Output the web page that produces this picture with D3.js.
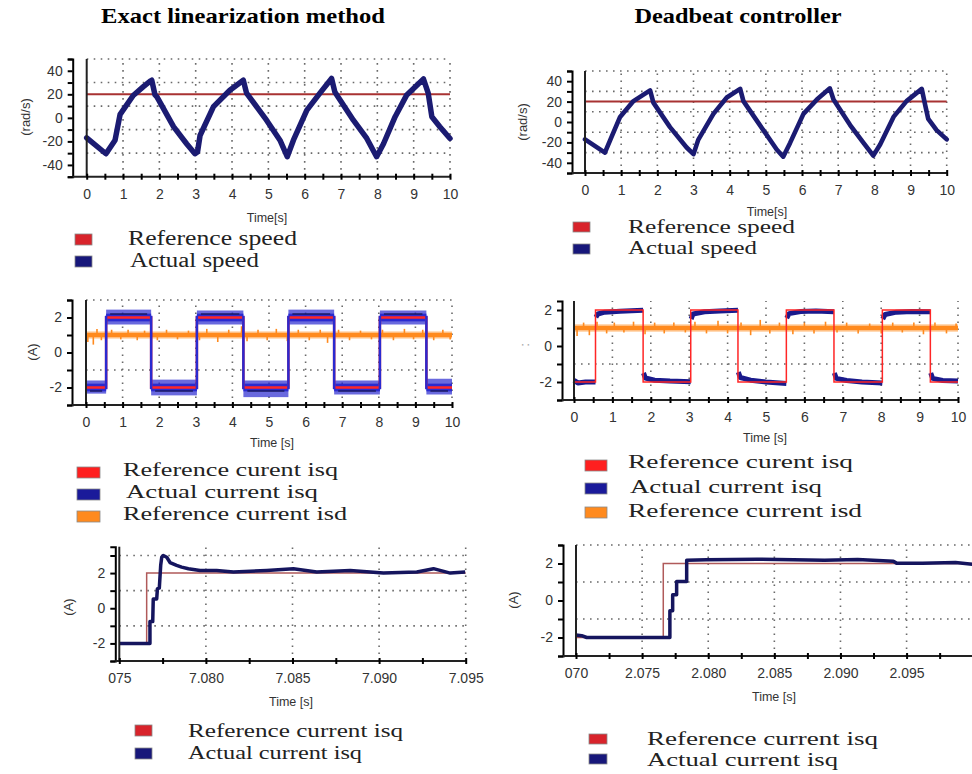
<!DOCTYPE html>
<html>
<head>
<meta charset="utf-8">
<script src="https://cdn.jsdelivr.net/npm/d3@7"></script>
<style>
  body { margin: 0; background: #fff; }
  svg { display: block; }
  .tick text { font-family: "Liberation Sans", Arial, sans-serif; fill: #333; }
</style>
</head>
<body>
<svg id="fig" width="972" height="774"></svg>
<script>
// ---------- data ----------
// top row: rotor speed (rad/s) against time (s)
const speedRef = 20;
const speedLeft = [[0,-17],[0.53,-30.5],[0.78,-19],[0.92,3],[1.28,19],[1.56,26.5],[1.74,31],[1.79,32],[1.88,19.5],[1.93,18],
  [2.39,-7.5],[2.75,-22],[2.98,-30.5],[3.05,-29],[3.12,-15],[3.49,9.5],[3.94,23.5],[4.31,32],[4.4,21],[4.95,-2],
  [5.32,-19],[5.52,-33],[5.69,-19],[6.06,6.5],[6.42,21],[6.74,33.5],[6.83,22],[7.34,-2],[7.71,-17.5],[7.98,-33],
  [8.17,-22],[8.49,1],[8.81,19.5],[9.27,33],[9.4,21],[9.5,1],[9.72,-7.5],[10,-17.5]];
const speedRight = [[0,-17],[0.55,-30],[0.74,-14],[0.97,5],[1.34,20.5],[1.8,31],[1.89,19],[2.35,-5],[2.81,-25],[3.0,-31.5],
  [3.13,-17.5],[3.55,8],[3.92,24],[4.29,32.5],[4.38,20.5],[4.93,-8],[5.3,-27],[5.48,-34],[5.67,-20.5],[6.04,8],
  [6.41,22],[6.77,33],[6.87,22],[7.33,-3],[7.7,-20.5],[7.97,-33],[8.16,-22],[8.53,5],[8.89,20.5],[9.31,32.5],
  [9.4,17.5],[9.49,3],[9.72,-8],[10,-17]];

// middle row: currents (A)
const isqSwitchLeft = [0.55, 1.78, 3.03, 4.3, 5.53, 6.78, 8.03, 9.3];
const isqSwitchRight = [0.56, 1.8, 3.04, 4.27, 5.53, 6.77, 8.03, 9.28];
const isqLevels = [-2, 2, -2, 2, -2, 2, -2, 2, -2];
const isqBandHiLeft = [-1.6, 2.45, -1.55, 2.4, -1.6, 2.45, -1.6, 2.4, -1.5];
const isqBandLoLeft = [-2.35, 1.6, -2.45, 1.6, -2.55, 1.6, -2.4, 1.6, -2.4];
const isqActRight = [
  [[0,-1.9],[0.1,-2.05],[0.3,-2.0],[0.56,-2.0]],
  [[0.57,1.6],[0.62,1.78],[0.8,1.88],[1.2,1.93],[1.8,1.98]],
  [[1.81,-1.5],[1.86,-1.78],[2.1,-1.9],[2.5,-1.95],[3.04,-1.98]],
  [[3.05,1.5],[3.1,1.78],[3.4,1.9],[3.8,1.95],[4.27,1.98]],
  [[4.28,-1.45],[4.33,-1.75],[4.6,-1.9],[5.0,-2.0],[5.53,-2.08]],
  [[5.54,1.55],[5.6,1.8],[5.9,1.92],[6.3,1.95],[6.77,1.9]],
  [[6.78,-1.5],[6.83,-1.8],[7.1,-1.92],[7.5,-2.0],[8.03,-2.05]],
  [[8.04,1.5],[8.1,1.75],[8.4,1.88],[8.8,1.92],[9.28,1.9]],
  [[9.29,-1.5],[9.34,-1.8],[9.6,-1.92],[10,-1.95]]
];
const isdRef = 1;
const isdBand = [0.8, 1.2];
const isdSpikesLeft = [[0.05,0.6],[0.2,0.45],[0.3,1.35],[0.42,0.7],[0.7,1.3],[0.95,0.75],[1.15,1.3],[1.4,0.7],[1.6,1.25],
  [1.95,0.7],[2.2,1.3],[2.5,0.75],[2.8,1.25],[3.1,0.7],[3.3,1.35],[3.6,0.6],[3.9,1.3],[4.25,1.5],[4.4,0.65],[4.7,1.3],
  [4.95,0.7],[5.2,1.35],[5.5,0.65],[5.8,1.3],[6.1,0.7],[6.4,1.3],[6.6,0.55],[6.9,1.3],[7.2,0.7],[7.5,1.25],[7.8,0.75],
  [8.1,1.3],[8.4,0.7],[8.7,1.35],[8.95,0.75],[9.2,1.3],[9.5,0.7],[9.75,1.3],[9.95,0.75]];
const isdSpikesRight = [[0.08,0.55],[0.25,1.3],[0.4,0.6],[0.6,1.35],[0.85,0.7],[1.05,1.3],[1.3,0.75],[1.55,1.35],[1.85,0.65],
  [2.1,1.3],[2.35,0.7],[2.6,1.3],[2.9,0.75],[3.15,1.35],[3.45,0.7],[3.75,1.4],[4.0,0.7],[4.35,1.3],[4.6,0.6],[4.85,1.45],
  [5.1,0.7],[5.35,1.3],[5.7,0.65],[6.0,1.3],[6.25,0.7],[6.55,1.35],[6.85,0.75],[7.1,1.3],[7.4,0.7],[7.7,1.25],[8.0,0.7],
  [8.3,1.3],[8.55,0.75],[8.85,1.3],[9.1,0.65],[9.4,1.3],[9.7,0.7],[9.95,1.25]];

// bottom row: zoom on one isq step
const zoomSwitchLeft = 7.07658;
const zoomActLeft = [[7.075,-2],[7.07677,-2],[7.07677,-0.76],[7.07693,-0.76],[7.07696,0.53],[7.07716,0.53],[7.0772,1.1],
  [7.07731,1.15],[7.07739,2.44],[7.07745,2.9],[7.07754,3.0],[7.07774,2.9],[7.07793,2.6],[7.07831,2.44],[7.0786,2.34],
  [7.07899,2.25],[7.07966,2.15],[7.08062,2.15],[7.08159,2.06],[7.08351,2.15],[7.08505,2.25],[7.0864,2.06],[7.08833,2.15],
  [7.09025,2.0],[7.09218,2.06],[7.09314,2.25],[7.09411,2.0],[7.09497,2.06]];
const zoomSwitchRight = 2.0766;
const zoomActRight = [[2.070,-1.86],[2.07043,-1.9],[2.07081,-2.0],[2.0771,-2.0],[2.0771,-0.56],[2.07731,-0.56],[2.07731,0.31],
  [2.07761,0.31],[2.07761,1.03],[2.07837,1.03],[2.07837,2.18],[2.07988,2.2],[2.0837,2.23],[2.0888,2.18],[2.0913,2.22],
  [2.0940,2.12],[2.09424,2.02],[2.0962,2.02],[2.0987,2.06],[2.09997,1.96]];
const zoomLevels = [-2, 2];

// legend labels
const speedLegend = ["Reference speed", "Actual speed"];
const currentLegendLeft = ["Reference curent isq", "Actual current isq", "Reference current isd"];
const currentLegendRight = ["Reference curent isq", "Actual current isq", "Reference current isd"];
const zoomLegend = ["Reference current isq", "Actual current isq"];

// ---------- drawing ----------
const svg = d3.select("#fig");
const navy = "#1b1b72", darkRed = "#a83232", red = "#ff2626", blue = "#2a2ad0", orange = "#ff8a1e";
const serif = "'Liberation Serif','Times New Roman',serif";

svg.append("text").attr("x", 243).attr("y", 23).attr("text-anchor", "middle")
  .attr("font-family", serif).attr("font-weight", "bold").attr("font-size", 22)
  .attr("textLength", 284).attr("lengthAdjust", "spacingAndGlyphs").text("Exact linearization method");
svg.append("text").attr("x", 738).attr("y", 23).attr("text-anchor", "middle")
  .attr("font-family", serif).attr("font-weight", "bold").attr("font-size", 22)
  .attr("textLength", 207).attr("lengthAdjust", "spacingAndGlyphs").text("Deadbeat controller");

function makePanel(c) {
  const x = d3.scaleLinear().domain(c.xDomain).range([c.left, c.right]);
  const y = d3.scaleLinear().domain(c.yDomain).range([c.bottom, c.top]);
  const g = svg.append("g");
  // dotted grid
  g.selectAll(null).data(c.gridY).join("line")
    .attr("x1", c.left).attr("x2", c.right)
    .attr("y1", d => y(d)).attr("y2", d => y(d))
    .attr("stroke", "#6a6a6a").attr("stroke-width", 1.6).attr("stroke-dasharray", "1.6,5.4");
  g.selectAll(null).data(c.gridX).join("line")
    .attr("x1", d => x(d)).attr("x2", d => x(d))
    .attr("y1", c.bottom).attr("y2", c.top)
    .attr("stroke", "#6a6a6a").attr("stroke-width", 1.6).attr("stroke-dasharray", "1.6,5.4");
  return { g, x, y, c };
}

function drawAxes(p) {
  const c = p.c;
  const yAxis = d3.axisLeft(p.y).tickValues(c.yTicks).tickSizeInner(5).tickSizeOuter(5).tickPadding(5)
    .tickFormat(d => c.yLabels.includes(d) ? String(d) : "");
  const ya = p.g.append("g").attr("transform", `translate(${c.left - c.yOffset},0)`).call(yAxis);
  ya.select(".domain").attr("stroke-width", 2);
  ya.selectAll(".tick line").attr("stroke-width", 2);
  ya.selectAll(".tick text").attr("font-size", 14);

  // plot border on the left and the time axis
  p.g.append("line").attr("x1", c.left).attr("x2", c.left).attr("y1", c.top).attr("y2", c.bottom)
    .attr("stroke", "#222").attr("stroke-width", 2);
  p.g.append("line").attr("x1", c.left - c.yOffset).attr("x2", c.right).attr("y1", c.bottom).attr("y2", c.bottom)
    .attr("stroke", "#222").attr("stroke-width", 2);

  const xAxis = d3.axisBottom(p.x).tickValues(c.xTicks).tickSize(3)
    .tickFormat(c.xFormat);
  const xa = p.g.append("g").attr("transform", `translate(0,${c.bottom})`).call(xAxis);
  xa.select(".domain").remove();
  xa.selectAll(".tick line").attr("y1", -3).attr("y2", 3).attr("stroke-width", 2);
  xa.selectAll(".tick text").attr("font-size", 14).attr("y", c.labelDy).attr("dy", "0.35em");

  p.g.append("text").attr("x", c.timeX).attr("y", c.timeY).attr("text-anchor", "middle")
    .attr("font-family", "'Liberation Sans',Arial,sans-serif").attr("font-size", 12.5).attr("fill", "#333")
    .text(c.timeLabel);
  p.g.append("text").attr("transform", `translate(${c.unitX},${c.unitY}) rotate(-90)`)
    .attr("text-anchor", "middle").attr("dy", "0.35em")
    .attr("font-family", "'Liberation Sans',Arial,sans-serif").attr("font-size", 13).attr("fill", c.unitColor || "#333")
    .text(c.unitLabel);
}

function drawLegend(items) {
  items.forEach(it => {
    svg.append("rect").attr("x", it.x).attr("y", it.y).attr("width", it.w).attr("height", it.h)
      .attr("fill", it.color).attr("stroke", "#8a8a8a").attr("stroke-width", 0.8);
    svg.append("text").attr("x", it.tx).attr("y", it.base)
      .attr("font-family", serif).attr("font-size", it.size).attr("fill", "#222")
      .attr("textLength", it.len).attr("lengthAdjust", "spacingAndGlyphs").text(it.label);
  });
}

const line = (p) => d3.line().x(d => p.x(d[0])).y(d => p.y(d[1]));
const halfTicks = d3.range(0, 10.01, 0.5).map(v => +v.toFixed(1));
const intLabel = d => Number.isInteger(d) ? String(d) : "";

// ----- top row: speed -----
function speedPanel(c, data, width) {
  const p = makePanel(c);
  p.g.append("line").attr("x1", p.x(0)).attr("x2", p.x(10)).attr("y1", p.y(speedRef)).attr("y2", p.y(speedRef))
    .attr("stroke", darkRed).attr("stroke-width", 2);
  p.g.append("path").datum(data).attr("d", line(p)).attr("fill", "none")
    .attr("stroke", navy).attr("stroke-width", width).attr("stroke-linejoin", "round").attr("stroke-linecap", "round");
  drawAxes(p);
  return p;
}
const speedCommon = {
  xDomain: [0, 10], yDomain: [-50, 50], yTicks: d3.range(-50, 51, 10), yLabels: [-40, -20, 0, 20, 40],
  gridY: [-30, -10, 10, 30, 50], gridX: d3.range(1, 11), xTicks: halfTicks, xFormat: intLabel,
  timeLabel: "Time[s]", unitLabel: "(rad/s)", labelDy: 17
};
speedPanel({ ...speedCommon, left: 86.7, right: 450, top: 59, bottom: 176.7, yOffset: 14,
  timeX: 267, timeY: 222, unitX: 25, unitY: 117 }, speedLeft, 5.5);
speedPanel({ ...speedCommon, left: 585, right: 946.7, top: 71, bottom: 173, yOffset: 13,
  timeX: 767, timeY: 216, unitX: 522, unitY: 122 }, speedRight, 4.6);

drawLegend([
  { x: 75, y: 234, w: 17, h: 11, color: "#d8232b", tx: 128, base: 245, label: speedLegend[0], len: 169, size: 20 },
  { x: 75, y: 256, w: 17, h: 11, color: "#17177a", tx: 130, base: 267, label: speedLegend[1], len: 129, size: 20 },
  { x: 573, y: 222, w: 17, h: 10, color: "#d8232b", tx: 628, base: 233, label: speedLegend[0], len: 167, size: 19 },
  { x: 573, y: 244, w: 17, h: 10, color: "#17177a", tx: 628, base: 254, label: speedLegend[1], len: 129, size: 19 }
]);

// ----- middle row: currents -----
const stepPoints = (switches, levels, t0, t1) => {
  const times = [t0, ...switches, t1];
  const pts = [];
  levels.forEach((lv, i) => { pts.push([times[i], lv]); pts.push([times[i + 1], lv]); });
  return pts;
};
const currentCommon = {
  xDomain: [0, 10], yTicks: [-3, -2, -1, 0, 1, 2, 3], yLabels: [-2, 0, 2],
  gridX: d3.range(1, 11), xTicks: halfTicks, xFormat: intLabel, timeLabel: "Time [s]", labelDy: 17
};

function drawIsd(p, spikes) {
  p.g.append("rect").attr("x", p.x(0)).attr("width", p.x(10) - p.x(0))
    .attr("y", p.y(isdBand[1])).attr("height", p.y(isdBand[0]) - p.y(isdBand[1]))
    .attr("fill", orange).attr("opacity", 0.55);
  p.g.selectAll(null).data(spikes).join("line")
    .attr("x1", d => p.x(d[0])).attr("x2", d => p.x(d[0]))
    .attr("y1", p.y(isdRef)).attr("y2", d => p.y(d[1]))
    .attr("stroke", orange).attr("stroke-width", 1.6);
  p.g.append("line").attr("x1", p.x(0)).attr("x2", p.x(10)).attr("y1", p.y(isdRef)).attr("y2", p.y(isdRef))
    .attr("stroke", orange).attr("stroke-width", 4);
}

// left: exact linearization
{
  const p = makePanel({ ...currentCommon, yDomain: [-3, 3], left: 86, right: 452, top: 300, bottom: 405, yOffset: 14,
    gridY: [-1, 1, 3], timeX: 272, timeY: 447, unitX: 32, unitY: 352, unitLabel: "(A)" });
  const times = [0, ...isqSwitchLeft, 10];
  // noisy measured band
  p.g.selectAll(null).data(isqLevels).join("rect")
    .attr("x", (d, i) => p.x(times[i])).attr("width", (d, i) => p.x(times[i + 1]) - p.x(times[i]))
    .attr("y", (d, i) => p.y(isqBandHiLeft[i])).attr("height", (d, i) => p.y(isqBandLoLeft[i]) - p.y(isqBandHiLeft[i]))
    .attr("fill", blue).attr("opacity", 0.7);
  p.g.selectAll(null).data(isqLevels).join("rect")
    .attr("x", (d, i) => p.x(times[i])).attr("width", (d, i) => p.x(times[i + 1]) - p.x(times[i]))
    .attr("y", d => p.y(d + 0.22)).attr("height", d => p.y(d - 0.22) - p.y(d + 0.22))
    .attr("fill", blue);
  // darker core of the measured signal
  p.g.selectAll(null).data(isqLevels).join("line")
    .attr("x1", (d, i) => p.x(times[i]) + 4).attr("x2", (d, i) => p.x(times[i + 1]) - 4)
    .attr("y1", d => p.y(d * 1.1)).attr("y2", d => p.y(d * 1.1))
    .attr("stroke", "#14144a").attr("stroke-width", 2).attr("opacity", 0.6);
  drawIsd(p, isdSpikesLeft);
  // reference isq
  p.g.append("path").datum(stepPoints(isqSwitchLeft, isqLevels, 0, 10)).attr("d", line(p))
    .attr("fill", "none").attr("stroke", red).attr("stroke-width", 2.5);
  // measured transitions
  p.g.selectAll(null).data(isqSwitchLeft).join("line")
    .attr("x1", d => p.x(d)).attr("x2", d => p.x(d)).attr("y1", p.y(-2.1)).attr("y2", p.y(2.1))
    .attr("stroke", blue).attr("stroke-width", 2.5);
  drawAxes(p);
}
// right: deadbeat
{
  const p = makePanel({ ...currentCommon, yDomain: [-3, 2.5], left: 574, right: 958, top: 301, bottom: 400, yOffset: 12,
    yTicks: [-3, -2, -1, 0, 1, 2], gridY: [-1, 1], timeX: 765, timeY: 442, unitX: 524, unitY: 345,
    unitLabel: ":", unitColor: "#999" });
  drawIsd(p, isdSpikesRight);
  isqActRight.forEach(seg => {
    p.g.append("path").datum(seg).attr("d", line(p)).attr("fill", "none")
      .attr("stroke", "#1a1a8c").attr("stroke-width", 5).attr("stroke-linejoin", "round");
  });
  p.g.append("path").datum(stepPoints(isqSwitchRight, isqLevels, 0, 10)).attr("d", line(p))
    .attr("fill", "none").attr("stroke", red).attr("stroke-width", 1.5);
  drawAxes(p);
}

drawLegend([
  { x: 77, y: 467, w: 23, h: 11, color: "#ff1f1f", tx: 123, base: 476, label: currentLegendLeft[0], len: 215, size: 18 },
  { x: 77, y: 489, w: 23, h: 11, color: "#1a1a9a", tx: 126, base: 498, label: currentLegendLeft[1], len: 192, size: 18 },
  { x: 77, y: 511, w: 23, h: 11, color: orange, tx: 123, base: 520, label: currentLegendLeft[2], len: 224, size: 18 },
  { x: 585, y: 460, w: 22, h: 11, color: "#ff1f1f", tx: 628, base: 468, label: currentLegendRight[0], len: 225, size: 18 },
  { x: 585, y: 483, w: 22, h: 11, color: "#1a1a9a", tx: 630, base: 493, label: currentLegendRight[1], len: 192, size: 18 },
  { x: 585, y: 507, w: 22, h: 11, color: orange, tx: 628, base: 517, label: currentLegendRight[2], len: 234, size: 18 }
]);

// ----- bottom row: zoom on one step -----
function zoomPanel(c, sw, act) {
  const p = makePanel(c);
  p.g.append("path").datum([[c.xDomain[0], zoomLevels[0]], [sw, zoomLevels[0]], [sw, zoomLevels[1]], [c.xDomain[1], zoomLevels[1]]])
    .attr("d", line(p)).attr("fill", "none").attr("stroke", "#b05a5a").attr("stroke-width", 1.5);
  p.g.append("path").datum(act).attr("d", line(p)).attr("fill", "none")
    .attr("stroke", "#15155e").attr("stroke-width", 3.5).attr("stroke-linejoin", "round");
  drawAxes(p);
}
zoomPanel({ xDomain: [7.075, 7.095], yDomain: [-3, 3.5], left: 119.3, right: 465.7, top: 546.7, bottom: 661, yOffset: 4,
  yTicks: [-3, -2, -1, 0, 1, 2, 3], yLabels: [-2, 0, 2], gridY: [-1, 1, 3], gridX: [7.080, 7.085, 7.090, 7.095],
  xTicks: d3.range(0, 9).map(i => 7.075 + i * 0.0025),
  xFormat: d => { const k = Math.round((d - 7.075) / 0.0025); return k === 0 ? "075" : k % 2 === 0 ? d.toFixed(3) : ""; },
  labelDy: 17, timeLabel: "Time [s]", timeX: 291, timeY: 706, unitLabel: "(A)", unitX: 68, unitY: 607
}, zoomSwitchLeft, zoomActLeft);
zoomPanel({ xDomain: [2.070, 2.100], yDomain: [-3, 3], left: 576, right: 972.7, top: 545, bottom: 656, yOffset: 13,
  yTicks: [-3, -2, -1, 0, 1, 2, 3], yLabels: [-2, 0, 2], gridY: [-1, 1, 3], gridX: [2.075, 2.080, 2.085, 2.090, 2.095],
  xTicks: d3.range(0, 13).map(i => 2.070 + i * 0.0025),
  xFormat: d => { const k = Math.round((d - 2.070) / 0.0025); return k === 0 ? "070" : (k % 2 === 0 && k < 12) ? d.toFixed(3) : ""; },
  labelDy: 17, timeLabel: "Time [s]", timeX: 774, timeY: 701, unitLabel: "(A)", unitX: 513, unitY: 600
}, zoomSwitchRight, zoomActRight);

drawLegend([
  { x: 135, y: 725, w: 17, h: 11, color: "#d8232b", tx: 188, base: 737, label: zoomLegend[0], len: 215, size: 19 },
  { x: 135, y: 748, w: 17, h: 11, color: "#17177a", tx: 188, base: 759, label: zoomLegend[1], len: 174, size: 19 },
  { x: 589, y: 734, w: 18, h: 10, color: "#d8232b", tx: 647, base: 745, label: zoomLegend[0], len: 231, size: 19 },
  { x: 589, y: 754, w: 18, h: 10, color: "#17177a", tx: 647, base: 766, label: zoomLegend[1], len: 191, size: 19 }
]);
</script>
</body>
</html>
